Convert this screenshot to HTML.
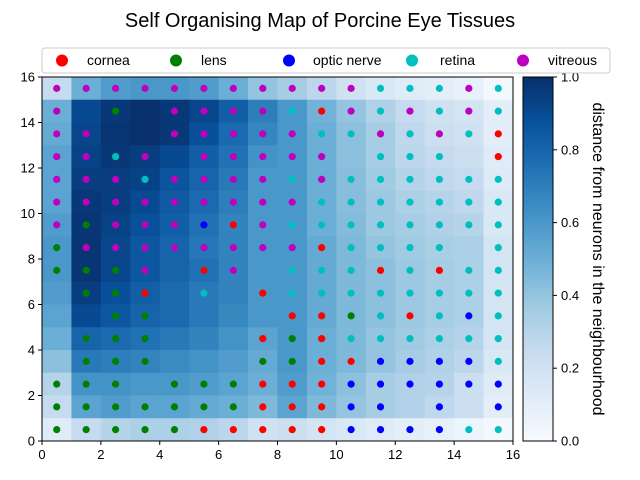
<!DOCTYPE html>
<html><head><meta charset="utf-8">
<style>
body{margin:0;background:#fff;}
svg{display:block;font-family:"Liberation Sans",sans-serif;}
</style></head>
<body>
<svg id="chart" width="640" height="480" viewBox="0 0 640 480" xmlns="http://www.w3.org/2000/svg">
<text x="320" y="27" font-size="20" text-anchor="middle" fill="#000">Self Organising Map of Porcine Eye Tissues</text>
<g id="heat"></g>
<g id="pts"></g>
<rect x="42" y="77" width="471" height="364" fill="none" stroke="#000" stroke-width="1"/>
<g id="axes"></g>
<defs><linearGradient id="cbg" x1="0" y1="1" x2="0" y2="0">
<stop offset="0" stop-color="#f7fbff"/><stop offset="0.125" stop-color="#deebf7"/><stop offset="0.25" stop-color="#c6dbef"/><stop offset="0.375" stop-color="#9ecae1"/><stop offset="0.5" stop-color="#6baed6"/><stop offset="0.625" stop-color="#4292c6"/><stop offset="0.75" stop-color="#2171b5"/><stop offset="0.875" stop-color="#08519c"/><stop offset="1" stop-color="#08306b"/>
</linearGradient></defs>
<rect x="523" y="77" width="30" height="364" fill="url(#cbg)" stroke="#000" stroke-width="1"/>
<g id="cbaxis"></g>
<text transform="translate(593,259) rotate(90)" font-size="16" text-anchor="middle" fill="#000">distance from neurons in the neighbourhood</text>
<g>
<rect x="42" y="48" width="568" height="25" rx="3" fill="#fff" stroke="#ccc"/>
<g><circle cx="62" cy="60.5" r="6" fill="#ff0000"/><text x="87" y="65" font-size="14">cornea</text></g>
<g><circle cx="176" cy="60.5" r="6" fill="#008000"/><text x="201" y="65" font-size="14">lens</text></g>
<g><circle cx="289" cy="60.5" r="6" fill="#0000ff"/><text x="313" y="65" font-size="14">optic nerve</text></g>
<g><circle cx="412" cy="60.5" r="6" fill="#00bfbf"/><text x="440" y="65" font-size="14">retina</text></g>
<g><circle cx="523" cy="60.5" r="6" fill="#bf00bf"/><text x="548" y="65" font-size="14">vitreous</text></g>
</g>
</svg>
<script>
// heatmap values, rows from top (y=15) to bottom (y=0), cols 0..15
const heatRows = [
[0.25,0.5,0.58,0.6,0.6,0.58,0.5,0.4,0.35,0.28,0.2,0.15,0.12,0.1,0.08,0.02],
[0.5,0.9,0.97,1.0,0.97,0.92,0.82,0.7,0.6,0.48,0.4,0.32,0.25,0.2,0.18,0.1],
[0.52,0.92,0.98,1.0,0.97,0.88,0.78,0.67,0.6,0.5,0.42,0.35,0.27,0.22,0.2,0.1],
[0.55,0.93,0.97,0.95,0.9,0.82,0.75,0.62,0.6,0.5,0.42,0.35,0.28,0.25,0.22,0.12],
[0.55,0.95,0.95,0.93,0.86,0.8,0.72,0.6,0.6,0.5,0.43,0.37,0.3,0.27,0.25,0.13],
[0.55,0.97,0.95,0.9,0.84,0.78,0.7,0.6,0.6,0.5,0.43,0.38,0.33,0.3,0.27,0.15],
[0.58,0.98,0.93,0.88,0.82,0.75,0.68,0.6,0.6,0.5,0.44,0.38,0.35,0.32,0.3,0.15],
[0.6,0.98,0.92,0.85,0.8,0.73,0.68,0.6,0.6,0.52,0.45,0.4,0.37,0.34,0.33,0.18],
[0.6,0.98,0.92,0.85,0.8,0.75,0.68,0.6,0.6,0.52,0.45,0.42,0.38,0.35,0.33,0.18],
[0.58,0.95,0.88,0.82,0.78,0.72,0.68,0.6,0.6,0.52,0.45,0.42,0.38,0.35,0.33,0.18],
[0.55,0.9,0.85,0.8,0.78,0.72,0.66,0.6,0.6,0.52,0.45,0.42,0.38,0.35,0.33,0.18],
[0.5,0.8,0.78,0.75,0.72,0.68,0.62,0.55,0.6,0.5,0.45,0.4,0.37,0.33,0.3,0.17],
[0.42,0.72,0.7,0.68,0.65,0.62,0.58,0.52,0.6,0.5,0.45,0.4,0.35,0.32,0.28,0.15],
[0.3,0.62,0.62,0.6,0.6,0.58,0.55,0.5,0.58,0.48,0.42,0.35,0.32,0.3,0.22,0.12],
[0.25,0.55,0.58,0.55,0.55,0.52,0.5,0.45,0.55,0.45,0.4,0.35,0.32,0.27,0.22,0.1],
[0.12,0.25,0.3,0.33,0.33,0.32,0.28,0.2,0.22,0.18,0.15,0.12,0.1,0.08,0.05,0.02]
];
// visible top marker per cell: c=cornea l=lens o=optic nerve r=retina v=vitreous .=none
const pointRows = [
"vvvvvvvvvvvrrrvr",
"v.l.vvvvrcvrvrvr",
"vv..vvvvvrrvrvrc",
"vvrv.vvvvv.rrr.c",
"vvvrvvvvrvrrrrrr",
"vvvvvvvvvrrrrrrr",
"vlvvvocvrrrrrrrr",
"lvvvvvvvvcrrrr.r",
"lllv.cv.rrrcrcrr",
".llc.r.crrrrrrrr",
"..ll....cclrcror",
".lll...clcrrrrrr",
".lll...llccoooor",
"lll.lllcccoooooo",
"lllllllcccoo.o.o",
"lllllcccccoooorr"
];
const classNames = {c:"cornea",l:"lens",o:"optic-nerve",r:"retina",v:"vitreous"};
const classColors = {c:"#ff0000",l:"#008000",o:"#0000ff",r:"#00bfbf",v:"#bf00bf"};
const xTicks = [0,2,4,6,8,10,12,14,16];
const yTicks = [0,2,4,6,8,10,12,14,16];
const cbTicks = ["0.0","0.2","0.4","0.6","0.8","1.0"];

const NS="http://www.w3.org/2000/svg";
const X0=42,X1=513,Y0=441,Y1=77;
function sx(v){return X0+(X1-X0)*v/16;}
function sy(v){return Y0-(Y0-Y1)*v/16;}
const stops=[[0,[247,251,255]],[0.125,[222,235,247]],[0.25,[198,219,239]],[0.375,[158,202,225]],[0.5,[107,174,214]],[0.625,[66,146,198]],[0.75,[33,113,181]],[0.875,[8,81,156]],[1,[8,48,107]]];
function blues(t){t=Math.max(0,Math.min(1,t));for(let i=1;i<stops.length;i++){if(t<=stops[i][0]){const a=stops[i-1],b=stops[i];const f=(t-a[0])/(b[0]-a[0]);const c=a[1].map((v,k)=>Math.round(v+(b[1][k]-v)*f));return `rgb(${c[0]},${c[1]},${c[2]})`;}}return "rgb(8,48,107)";}
function mk(tag,attrs){const e=document.createElementNS(NS,tag);for(const k in attrs)e.setAttribute(k,attrs[k]);return e;}
const heat=document.getElementById('heat');
heatRows.forEach((row,ri)=>{const yv=15-ri;row.forEach((v,ci)=>{
 const r=mk('rect',{x:sx(ci),y:sy(yv+1),width:sx(ci+1)-sx(ci)+0.5,height:sy(yv)-sy(yv+1)+0.5,fill:blues(v)});
 
 
 heat.appendChild(r);});});
const pts=document.getElementById('pts');
pointRows.forEach((row,ri)=>{const yv=15-ri;for(let ci=0;ci<16;ci++){const ch=row[ci];if(!classColors[ch])continue;
 const c=mk('circle',{cx:sx(ci+0.5),cy:sy(yv+0.5),r:3.6,fill:classColors[ch]});
 
 
 pts.appendChild(c);}});
const axes=document.getElementById('axes');
xTicks.forEach(t=>{const x=sx(t);
 const l=mk('line',{x1:x,x2:x,y1:Y0,y2:Y0+4,stroke:'#000'});
 
 
 axes.appendChild(l);
 const tx=mk('text',{x:x,y:Y0+18,'font-size':13,'text-anchor':'middle'});tx.textContent=t;
 
 
 axes.appendChild(tx);});
yTicks.forEach(t=>{const y=sy(t);
 const l=mk('line',{x1:X0-4,x2:X0,y1:y,y2:y,stroke:'#000'});
 
 
 axes.appendChild(l);
 const tx=mk('text',{x:X0-7,y:y+4.5,'font-size':13,'text-anchor':'end'});tx.textContent=t;
 
 
 axes.appendChild(tx);});
const cb=document.getElementById('cbaxis');
cbTicks.forEach(t=>{const y=Y0-(Y0-Y1)*parseFloat(t);
 const l=mk('line',{x1:553,x2:557,y1:y,y2:y,stroke:'#000'});
 
 
 cb.appendChild(l);
 const tx=mk('text',{x:561,y:y+4.5,'font-size':13});tx.textContent=t;
 
 
 cb.appendChild(tx);});
</script>
</body></html>
